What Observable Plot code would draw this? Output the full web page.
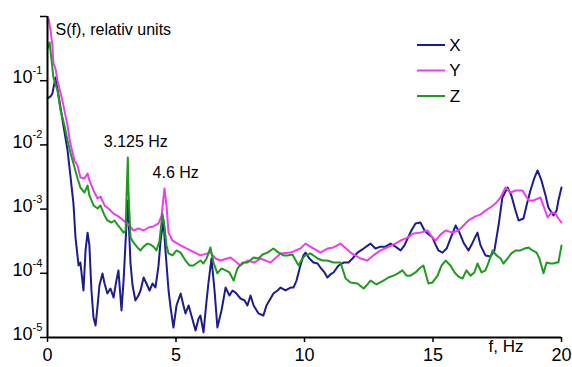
<!DOCTYPE html>
<html><head><meta charset="utf-8">
<script src="https://cdn.jsdelivr.net/npm/d3@7"></script>
<script src="https://cdn.jsdelivr.net/npm/@observablehq/plot@0.6"></script>
<style>body{margin:0;background:#fff;} svg{display:block}</style>
</head><body><div id="chart"></div>
<script>
const seriesNames = ["X", "Y", "Z"];
const seriesColors = ["#1c1c8e", "#f03cf0", "#1f9a1f"];
const xTicks = [0, 5, 10, 15, 20];
const yTicks = [1, 1e-1, 1e-2, 1e-3, 1e-4, 1e-5];
const yLabelTicks = [1e-1, 1e-2, 1e-3, 1e-4, 1e-5];
const yExponents = ["-1", "-2", "-3", "-4", "-5"];

const fX = [0,0.12,0.19,0.31,0.43,0.62,0.78,0.89,1.01,1.09,1.21,1.28,1.4,1.48,1.56,1.63,1.71,1.79,1.87,1.95,2.02,2.14,2.22,2.33,2.45,2.57,2.68,2.76,2.88,2.96,3.04,3.125,3.23,3.31,3.42,3.54,3.62,3.74,3.85,3.97,4.09,4.2,4.32,4.4,4.51,4.59,4.71,4.79,4.9,5.02,5.18,5.29,5.37,5.49,5.6,5.76,5.88,5.95,6.07,6.19,6.26,6.38,6.5,6.61,6.77,6.93,7.08,7.2,7.32,7.51,7.67,7.78,7.9,8.02,8.21,8.4,8.52,8.68,8.79,8.95,9.07,9.26,9.46,9.57,9.69,9.84,9.96,10.04,10.19,10.35,10.51,10.62,10.78,10.89,11.01,11.13,11.32,11.52,11.71,11.87,12.06,12.3,12.57,12.76,12.96,13.15,13.35,13.54,13.74,13.89,14.01,14.16,14.32,14.51,14.67,14.79,14.98,15.1,15.21,15.37,15.53,15.68,15.88,16.03,16.19,16.38,16.54,16.73,16.85,17.04,17.24,17.39,17.55,17.7,17.9,18.05,18.21,18.33,18.52,18.64,18.79,18.95,19.07,19.22,19.38,19.49,19.69,19.81,19.88,20];
const sX = [0.053,0.057,0.063,0.112,0.059,0.02,8.2e-3,3.34e-3,1.22e-3,3.6e-4,1.32e-4,1.47e-4,5.4e-5,2.27e-4,4.3e-4,2.72e-4,5.4e-5,2.05e-5,1.54e-5,3.15e-5,6.45e-5,9.9e-5,6.94e-5,4.84e-5,5.8e-5,4.2e-5,7.7e-5,1.11e-4,2.63e-5,7.7e-5,3.24e-4,1.36e-3,1.42e-4,6.45e-5,3.77e-5,4.5e-5,5.4e-5,8.6e-5,6.94e-5,5.4e-5,6.94e-5,6.0e-5,1.32e-4,3.24e-4,6.65e-4,2.27e-4,5.4e-5,2.93e-5,1.43e-5,3.15e-5,4.84e-5,3.15e-5,2.37e-5,3.15e-5,2.2e-5,1.29e-5,1.98e-5,2.2e-5,1.2e-5,3.77e-5,6.94e-5,1.7e-4,5.4e-5,1.43e-5,2.63e-5,6.0e-5,4.5e-5,5.4e-5,5.0e-5,4.05e-5,3.77e-5,3.15e-5,4.5e-5,3.15e-5,2.37e-5,2.2e-5,3.15e-5,4.05e-5,4.84e-5,5.4e-5,6.0e-5,5.4e-5,6.0e-5,6.0e-5,7.7e-5,1.32e-4,1.9e-4,2.1e-4,1.7e-4,1.47e-4,1.42e-4,1.23e-4,1.03e-4,8.6e-5,9.6e-5,1.03e-4,1.32e-4,1.47e-4,1.47e-4,1.7e-4,2.1e-4,2.43e-4,2.9e-4,2.43e-4,2.6e-4,2.6e-4,2.9e-4,2.6e-4,2.27e-4,2.72e-4,3.48e-4,4.64e-4,5.97e-4,6.18e-4,4.64e-4,4.17e-4,3.6e-4,2.8e-4,2.27e-4,2.1e-4,2.43e-4,3.48e-4,5.55e-4,4.3e-4,3.0e-4,2.27e-4,3.0e-4,4.3e-4,2.72e-4,1.9e-4,1.83e-4,2.27e-4,5.55e-4,1.52e-3,2.17e-3,1.63e-3,9.5e-4,6.65e-4,7.14e-4,1.14e-3,1.95e-3,3.1e-3,4.0e-3,2.8e-3,1.63e-3,1.06e-3,7.95e-4,9.5e-4,1.36e-3,2.17e-3];

const fY = [0,0.04,0.12,0.19,0.23,0.31,0.39,0.58,0.78,0.89,1.05,1.17,1.28,1.44,1.56,1.63,1.79,1.95,2.06,2.22,2.37,2.57,2.76,2.96,3.15,3.35,3.54,3.74,3.93,4.12,4.32,4.44,4.55,4.63,4.71,4.86,5.18,5.56,5.95,6.34,6.54,6.73,7.12,7.51,7.78,8.05,8.29,8.68,9.07,9.46,9.84,10.04,10.23,10.62,10.89,11.13,11.4,11.79,12.18,12.45,12.68,12.96,13.23,13.46,13.74,14.01,14.24,14.51,14.79,14.98,15.1,15.29,15.49,15.76,15.99,16.19,16.38,16.65,16.85,17.04,17.24,17.43,17.63,17.82,18.02,18.21,18.48,18.72,18.91,19.18,19.46,19.61,19.77,19.88,20];
const sY = [0.81,0.93,0.6,0.35,0.19,0.155,0.1,0.049,0.02,0.0105,5.7e-3,4.77e-3,3.1e-3,3.0e-3,3.58e-3,2.8e-3,1.95e-3,1.46e-3,1.57e-3,1.14e-3,1.02e-3,8.5e-4,7.7e-4,6.65e-4,5.75e-4,4.64e-4,5.0e-4,4.64e-4,5.17e-4,5.36e-4,5.97e-4,7.95e-4,2.1e-3,1.14e-3,4.3e-4,3.24e-4,2.72e-4,2.27e-4,1.9e-4,2.1e-4,1.7e-4,1.58e-4,1.76e-4,1.32e-4,1.58e-4,1.47e-4,1.7e-4,1.47e-4,2.04e-4,2.1e-4,2.43e-4,2.9e-4,2.6e-4,2.1e-4,2.43e-4,2.53e-4,2.9e-4,2.1e-4,1.7e-4,1.58e-4,1.9e-4,2.27e-4,2.53e-4,2.8e-4,3.24e-4,3.6e-4,4.17e-4,4.3e-4,4.64e-4,3.6e-4,3.24e-4,4.0e-4,4.64e-4,4.3e-4,4.64e-4,5.55e-4,6.65e-4,7.7e-4,8.2e-4,9.5e-4,1.06e-3,1.22e-3,1.52e-3,2.17e-3,1.81e-3,1.95e-3,1.95e-3,1.36e-3,1.36e-3,1.52e-3,7.4e-4,8.85e-4,8.5e-4,7.14e-4,6.18e-4];

const fZ = [0,0.08,0.16,0.23,0.39,0.51,0.66,0.78,0.89,1.01,1.17,1.28,1.44,1.56,1.63,1.79,1.95,2.06,2.22,2.33,2.49,2.61,2.72,2.84,2.96,3.04,3.07,3.125,3.15,3.23,3.35,3.5,3.62,3.74,3.89,4.01,4.12,4.24,4.36,4.47,4.55,4.63,4.71,4.86,5.02,5.18,5.37,5.53,5.68,5.84,5.95,6.07,6.19,6.34,6.46,6.61,6.77,6.93,7.08,7.24,7.39,7.59,7.78,8.02,8.21,8.37,8.56,8.79,8.99,9.18,9.34,9.53,9.77,9.92,10.04,10.23,10.51,10.7,10.89,11.13,11.4,11.6,11.79,12.06,12.3,12.45,12.57,12.8,13.07,13.27,13.46,13.62,13.81,13.97,14.12,14.32,14.51,14.63,14.82,14.98,15.18,15.33,15.49,15.68,15.84,15.99,16.15,16.3,16.46,16.61,16.73,16.89,17.04,17.16,17.32,17.47,17.63,17.74,17.9,18.05,18.21,18.4,18.56,18.72,18.87,19.03,19.14,19.3,19.42,19.57,19.69,19.81,19.88,20];
const sZ = [0.317,0.394,0.206,0.112,0.07,0.0343,0.02,0.0117,7.6e-3,5.13e-3,3.0e-3,2.17e-3,1.81e-3,2.33e-3,1.63e-3,1.14e-3,1.02e-3,1.14e-3,7.95e-4,6.65e-4,6.18e-4,6.65e-4,5.75e-4,5.0e-4,4.3e-4,4.64e-4,1.36e-3,6.37e-3,1.95e-3,3.6e-4,3.0e-4,2.53e-4,2.27e-4,2.6e-4,2.9e-4,2.8e-4,2.6e-4,2.27e-4,3.24e-4,8.5e-4,5.55e-4,2.72e-4,2.04e-4,1.9e-4,2.27e-4,2.1e-4,1.58e-4,1.32e-4,1.32e-4,1.47e-4,1.58e-4,1.42e-4,1.7e-4,2.53e-4,1.47e-4,1.0e-4,1.19e-4,1.11e-4,1.03e-4,7.7e-5,1.19e-4,1.47e-4,1.47e-4,1.76e-4,1.7e-4,1.96e-4,2.1e-4,2.43e-4,2.1e-4,1.9e-4,1.9e-4,1.96e-4,1.32e-4,1.7e-4,1.9e-4,2.04e-4,1.7e-4,1.58e-4,1.58e-4,1.47e-4,1.47e-4,8.3e-5,7.2e-5,6.94e-5,5.8e-5,6.7e-5,7.7e-5,6.7e-5,7.7e-5,8.6e-5,9.2e-5,9.9e-5,1.11e-4,9.2e-5,9.2e-5,1.03e-4,1.23e-4,1.32e-4,6.94e-5,7.2e-5,9.2e-5,1.32e-4,1.58e-4,1.32e-4,1.03e-4,8.9e-5,8.3e-5,1.11e-4,9.2e-5,1.03e-4,1.42e-4,1.03e-4,1.11e-4,1.47e-4,2.27e-4,1.9e-4,1.7e-4,1.42e-4,1.7e-4,2.04e-4,2.27e-4,2.27e-4,2.43e-4,2.53e-4,2.27e-4,2.1e-4,1.7e-4,1.0e-4,1.47e-4,1.42e-4,1.42e-4,1.47e-4,1.47e-4,2.72e-4];

const annotationLabels = ["3.125 Hz", "4.6 Hz"];
const annotationFreqs = [3.125, 4.6];

function zipSeries(name, fs, ss) {
  const n = Math.min(fs.length, ss.length);
  return d3.range(n).map(i => ({f: fs[i], s: ss[i], axis: name}));
}
const rows = [
  ...zipSeries("X", fX, sX),
  ...zipSeries("Y", fY, sY),
  ...zipSeries("Z", fZ, sZ)
];

// annotation anchors: peak values of the marked spectra near each frequency
const peakNear = (fs, ss, f0) => d3.max(d3.range(Math.min(fs.length, ss.length)).filter(i => Math.abs(fs[i] - f0) < 0.15).map(i => ss[i]));
const annotations = [
  {f: annotationFreqs[0], s: peakNear(fZ, sZ, annotationFreqs[0]), label: annotationLabels[0]},
  {f: annotationFreqs[1], s: peakNear(fY, sY, 4.55), label: annotationLabels[1]}
];

const font = "'Liberation Sans', Arial, Helvetica, sans-serif";

const chart = Plot.plot({
  width: 572, height: 367,
  marginLeft: 47, marginRight: 11, marginTop: 16, marginBottom: 30,
  style: {fontFamily: font, background: "#fff", color: "#000", overflow: "visible"},
  x: {domain: [0, 20]},
  y: {type: "log", domain: [1e-5, 1]},
  color: {domain: seriesNames, range: seriesColors},
  marks: [
    Plot.line(rows, {x: "f", y: "s", z: "axis", stroke: "axis", strokeWidth: 2, strokeLinejoin: "round"}),
    Plot.ruleX([0], {strokeWidth: 2, stroke: "#000"}),
    Plot.ruleY([1e-5], {strokeWidth: 2, stroke: "#000"}),
    Plot.axisX({ticks: xTicks, tickSize: 5, tickPadding: 6, fontSize: 18, strokeWidth: 1.5, label: null}),
    Plot.axisY({ticks: yTicks, tickSize: 7, tickFormat: () => "", strokeWidth: 1.5, label: null}),
    Plot.text(yLabelTicks, {y: d => d, frameAnchor: "left", text: () => "10", textAnchor: "end", dx: -15, dy: -3, fontSize: 18}),
    Plot.text(yLabelTicks, {y: d => d, frameAnchor: "left", text: (d, i) => yExponents[i], textAnchor: "start", dx: -15, dy: -10, fontSize: 11}),
    Plot.text(annotations.slice(0, 1), {x: "f", y: "s", text: "label", dx: 8, dy: -16, fontSize: 16}),
    Plot.text(annotations.slice(1), {x: "f", y: "s", text: "label", dx: 10, dy: -16, fontSize: 16}),
    Plot.text(["S(f), relativ units"], {frameAnchor: "top-left", textAnchor: "start", dx: 8, dy: 7, fontSize: 16}),
    Plot.text(["f, Hz"], {frameAnchor: "bottom-right", textAnchor: "start", dx: -73, dy: 14, fontSize: 17})
  ]
});

// legend
const svg = d3.select(chart);
const lg = svg.append("g").attr("font-family", font).attr("font-size", 17);
seriesNames.forEach((name, i) => {
  const yy = 45 + i * 25.5;
  lg.append("line").attr("x1", 417).attr("x2", 445).attr("y1", yy).attr("y2", yy)
    .attr("stroke", seriesColors[i]).attr("stroke-width", 2);
  lg.append("text").attr("x", 455).attr("y", yy).attr("dy", "0.35em").text(name);
});

document.getElementById("chart").appendChild(chart);
</script>
</body></html>
